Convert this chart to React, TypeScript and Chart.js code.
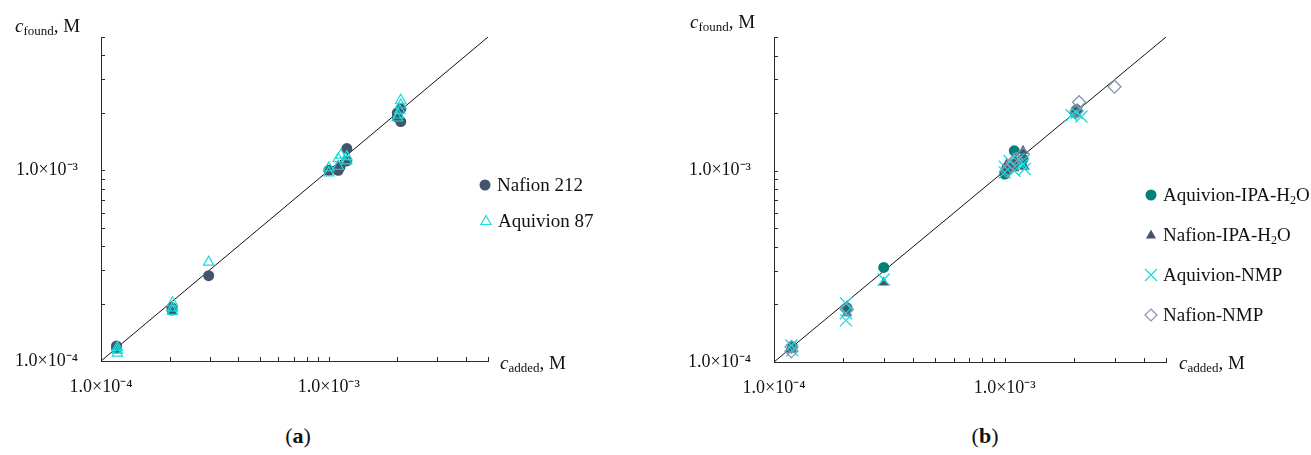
import React, { useEffect, useRef } from 'react';
import { Chart, registerables } from 'chart.js';

Chart.register(...registerables);

// ---------- axis data ----------
const AXIS_MIN = 1e-4;
const AXIS_MAX = 5e-3;
const LABELED_TICKS = [1e-4, 1e-3];
const TICK_LABELS = ['1.0×10⁻⁴', '1.0×10⁻³'];
const MINOR_TICKS = [2e-4, 3e-4, 4e-4, 5e-4, 6e-4, 7e-4, 8e-4, 9e-4, 1e-3, 2e-3, 3e-3, 4e-3, 5e-3];
const PARITY_LINE = [1e-4, 5e-3];

// ---------- panel (a) ----------
const A_SERIES = ['Nafion 212', 'Aquivion 87'];
const A_NAFION_X = [1.17e-4, 1.17e-4, 2.05e-4, 2.05e-4, 2.97e-4, 1.0e-3, 1.1e-3, 1.12e-3, 1.2e-3, 1.2e-3, 2.0e-3, 2.0e-3, 2.07e-3, 2.07e-3];
const A_NAFION_Y = [1.2e-4, 1.17e-4, 1.9e-4, 1.85e-4, 2.8e-4, 1.0e-3, 1.0e-3, 1.04e-3, 1.12e-3, 1.3e-3, 2.0e-3, 1.9e-3, 1.8e-3, 2.1e-3];
const A_AQUIVION_X = [1.18e-4, 1.18e-4, 1.18e-4, 2.06e-4, 2.06e-4, 2.06e-4, 2.97e-4, 1.0e-3, 1.0e-3, 1.1e-3, 1.1e-3, 1.13e-3, 1.2e-3, 1.2e-3, 2.0e-3, 2.02e-3, 2.05e-3, 2.07e-3, 2.07e-3];
const A_AQUIVION_Y = [1.18e-4, 1.14e-4, 1.1e-4, 2.02e-4, 1.9e-4, 1.82e-4, 3.3e-4, 1.03e-3, 0.97e-3, 1.05e-3, 1.15e-3, 1.2e-3, 1.18e-3, 1.12e-3, 1.88e-3, 1.95e-3, 2.06e-3, 2.2e-3, 2.33e-3];

// ---------- panel (b) ----------
const B_SERIES = ['Aquivion-IPA-H₂O', 'Nafion-IPA-H₂O', 'Aquivion-NMP', 'Nafion-NMP'];
const B_AQ_IPA_X = [1.2e-4, 2.07e-4, 2.99e-4, 1.0e-3, 1.02e-3, 1.1e-3, 1.1e-3, 1.2e-3, 2.02e-3, 2.05e-3];
const B_AQ_IPA_Y = [1.2e-4, 1.92e-4, 3.12e-4, 0.96e-3, 1.02e-3, 1.27e-3, 1.08e-3, 1.15e-3, 2.0e-3, 2.08e-3];
const B_NA_IPA_X = [1.19e-4, 2.07e-4, 2.07e-4, 2.99e-4, 1.0e-3, 1.02e-3, 1.1e-3, 1.12e-3, 1.2e-3, 1.22e-3, 2.03e-3, 2.06e-3];
const B_NA_IPA_Y = [1.16e-4, 1.8e-4, 1.95e-4, 2.6e-4, 1.0e-3, 1.08e-3, 1.03e-3, 1.13e-3, 1.27e-3, 1.05e-3, 2.02e-3, 2.1e-3];
const B_AQ_NMP_X = [1.19e-4, 1.2e-4, 2.05e-4, 2.05e-4, 2.05e-4, 2.99e-4, 1.0e-3, 1.0e-3, 1.05e-3, 1.1e-3, 1.15e-3, 1.2e-3, 1.22e-3, 1.95e-3, 2.05e-3, 2.15e-3];
const B_AQ_NMP_Y = [1.22e-4, 1.15e-4, 2.03e-4, 1.8e-4, 1.65e-4, 2.7e-4, 1.05e-3, 0.98e-3, 1.12e-3, 1.0e-3, 1.15e-3, 1.08e-3, 1.02e-3, 1.95e-3, 2.0e-3, 1.92e-3];
const B_NA_NMP_X = [1.19e-4, 1.19e-4, 2.07e-4, 1.02e-3, 1.08e-3, 1.12e-3, 1.2e-3, 2.05e-3, 2.1e-3, 2.99e-3];
const B_NA_NMP_Y = [1.2e-4, 1.14e-4, 1.88e-4, 1.0e-3, 1.1e-3, 1.15e-3, 1.22e-3, 2.05e-3, 2.28e-3, 2.75e-3];

// ---------- colours ----------
const C_SLATE = '#44546a';
const C_CYAN = '#1cdcdc';
const C_TEAL = '#03807a';
const C_BLUEGRAY = '#8497b0';
const AXIS_COLOR = '#2a2a2a';
const FONT = "'Liberation Serif', 'Times New Roman', serif";

const pts = (xs: number[], ys: number[]) => xs.map((x, i) => ({ x, y: ys[i] }));

const insideTicks = {
  id: 'insideTicks',
  afterDraw(chart: any) {
    const { ctx, chartArea, scales } = chart;
    const xs = scales.x, ys = scales.y;
    ctx.save();
    ctx.strokeStyle = AXIS_COLOR;
    ctx.lineWidth = 1;
    for (const v of MINOR_TICKS) {
      const px = Math.round(xs.getPixelForValue(v)) + 0.5;
      ctx.beginPath();
      ctx.moveTo(px, chartArea.bottom);
      ctx.lineTo(px, chartArea.bottom - 4);
      ctx.stroke();
      const py = Math.round(ys.getPixelForValue(v)) + 0.5;
      ctx.beginPath();
      ctx.moveTo(chartArea.left, py);
      ctx.lineTo(chartArea.left + 4, py);
      ctx.stroke();
    }
    ctx.restore();
  },
};

function axis(isX: boolean, fixedSize: number) {
  return {
    type: 'logarithmic',
    position: isX ? 'bottom' : 'left',
    min: AXIS_MIN,
    max: AXIS_MAX,
    bounds: 'data',
    grid: { display: false, drawTicks: false },
    border: { display: true, color: AXIS_COLOR, width: 1 },
    afterBuildTicks: (scale: any) => {
      scale.ticks = LABELED_TICKS.map((value) => ({ value }));
    },
    afterFit: (scale: any) => {
      if (isX) scale.height = fixedSize;
      else scale.width = fixedSize;
    },
    ticks: {
      autoSkip: false,
      maxRotation: 0,
      padding: isX ? 15 : 23,
      color: '#111',
      font: { family: FONT, size: 18 },
      callback: (v: number) => {
        const i = LABELED_TICKS.findIndex((t) => Math.abs(Math.log10(t) - Math.log10(v)) < 1e-6);
        return i >= 0 ? TICK_LABELS[i] : '';
      },
    },
  };
}

function Panel(props: { left: number; width: number; height: number; yWidth: number; xHeight: number; padRight: number; datasets: any[] }) {
  const ref = useRef<HTMLCanvasElement>(null);
  useEffect(() => {
    const lineDs = {
      type: 'line',
      data: PARITY_LINE.map((v) => ({ x: v, y: v })),
      borderColor: '#111',
      borderWidth: 1,
      pointRadius: 0,
      fill: false,
      order: 99,
    };
    const chart = new Chart(ref.current as HTMLCanvasElement, {
      type: 'scatter',
      data: { datasets: [...props.datasets, lineDs] as any },
      options: {
        animation: false,
        responsive: false,
        events: [],
        layout: { padding: { left: 0, top: 37, right: props.padRight, bottom: 0 } },
        plugins: { legend: { display: false }, tooltip: { enabled: false } },
        scales: { x: axis(true, props.xHeight) as any, y: axis(false, props.yWidth) as any },
      },
      plugins: [insideTicks],
    });
    return () => chart.destroy();
  }, []);
  return (
    <canvas
      ref={ref}
      width={props.width}
      height={props.height}
      style={{ position: 'absolute', left: props.left, top: 0, width: props.width, height: props.height }}
    />
  );
}

function Icon({ kind, color }: { kind: string; color: string }) {
  let shape: any = null;
  if (kind === 'circle') shape = <circle cx={8} cy={8} r={5.5} fill={color} />;
  if (kind === 'triangle') shape = <polygon points="8,2.5 13,11.5 3,11.5" fill={color} />;
  if (kind === 'triangleOpen') shape = <polygon points="8,2.5 13,11.5 3,11.5" fill="none" stroke={color} strokeWidth={1.2} />;
  if (kind === 'cross') shape = (
    <g stroke={color} strokeWidth={1.3}>
      <line x1={2} y1={2} x2={14} y2={14} />
      <line x1={14} y1={2} x2={2} y2={14} />
    </g>
  );
  if (kind === 'diamond') shape = <polygon points="8,2 14,8 8,14 2,8" fill="none" stroke={color} strokeWidth={1.2} />;
  return (
    <svg width={16} height={16} style={{ display: 'block' }}>
      {shape}
    </svg>
  );
}

function LegendItem({ x, y, kind, color, children }: any) {
  return (
    <>
      <div style={{ position: 'absolute', left: x - 8, top: y - 8 }}>
        <Icon kind={kind} color={color} />
      </div>
      <div style={{ position: 'absolute', left: x + 12, top: y - 12, height: 24, lineHeight: '24px', fontFamily: FONT, fontSize: 19, color: '#111', whiteSpace: 'nowrap' }}>
        {children}
      </div>
    </>
  );
}

function Title({ x, y, sub }: { x: number; y: number; sub: string }) {
  return (
    <div style={{ position: 'absolute', left: x, top: y - 12, height: 24, lineHeight: '24px', fontFamily: FONT, fontSize: 19, color: '#111', whiteSpace: 'nowrap' }}>
      <i>c</i>
      <sub style={{ fontSize: 13, verticalAlign: '-3px' }}>{sub}</sub>
      <i>,</i> M
    </div>
  );
}

function H2O({ pre }: { pre: string }) {
  return (
    <>
      {pre}H<sub style={{ fontSize: 12, verticalAlign: '-3px' }}>2</sub>O
    </>
  );
}

export default function App() {
  const aDatasets = [
    {
      label: A_SERIES[1],
      data: pts(A_AQUIVION_X, A_AQUIVION_Y),
      pointStyle: 'triangle',
      pointRadius: 6,
      backgroundColor: 'rgba(0,0,0,0)',
      borderColor: C_CYAN,
      borderWidth: 1.2,
      order: 0,
    },
    {
      label: A_SERIES[0],
      data: pts(A_NAFION_X, A_NAFION_Y),
      pointStyle: 'circle',
      pointRadius: 5.5,
      backgroundColor: C_SLATE,
      borderColor: C_SLATE,
      borderWidth: 0,
      order: 1,
    },
  ];
  const bDatasets = [
    {
      label: B_SERIES[3],
      data: pts(B_NA_NMP_X, B_NA_NMP_Y),
      pointStyle: 'rectRot',
      pointRadius: 6.5,
      backgroundColor: 'rgba(0,0,0,0)',
      borderColor: C_BLUEGRAY,
      borderWidth: 1.3,
      order: 0,
    },
    {
      label: B_SERIES[2],
      data: pts(B_AQ_NMP_X, B_AQ_NMP_Y),
      pointStyle: 'crossRot',
      pointRadius: 8.5,
      backgroundColor: C_CYAN,
      borderColor: C_CYAN,
      borderWidth: 1.3,
      order: 1,
    },
    {
      label: B_SERIES[1],
      data: pts(B_NA_IPA_X, B_NA_IPA_Y),
      pointStyle: 'triangle',
      pointRadius: 6,
      backgroundColor: C_SLATE,
      borderColor: C_SLATE,
      borderWidth: 0,
      order: 2,
    },
    {
      label: B_SERIES[0],
      data: pts(B_AQ_IPA_X, B_AQ_IPA_Y),
      pointStyle: 'circle',
      pointRadius: 5.5,
      backgroundColor: C_TEAL,
      borderColor: C_TEAL,
      borderWidth: 0,
      order: 3,
    },
  ];

  return (
    <div style={{ position: 'fixed', left: 0, top: 0, width: 1311, height: 455, background: '#fff', overflow: 'hidden' }}>
      <Panel left={0} width={520} height={420} yWidth={101} xHeight={59} padRight={32} datasets={aDatasets} />
      <Panel left={660} width={520} height={420} yWidth={114} xHeight={58} padRight={14} datasets={bDatasets} />

      <Title x={15} y={26} sub="found" />
      <Title x={500} y={363} sub="added" />
      <Title x={690} y={22} sub="found" />
      <Title x={1179} y={363} sub="added" />

      <LegendItem x={485} y={185} kind="circle" color={C_SLATE}>{A_SERIES[0]}</LegendItem>
      <LegendItem x={486} y={221} kind="triangleOpen" color={C_CYAN}>{A_SERIES[1]}</LegendItem>

      <LegendItem x={1151} y={195} kind="circle" color={C_TEAL}><H2O pre="Aquivion-IPA-" /></LegendItem>
      <LegendItem x={1151} y={235} kind="triangle" color={C_SLATE}><H2O pre="Nafion-IPA-" /></LegendItem>
      <LegendItem x={1151} y={275} kind="cross" color={C_CYAN}>{B_SERIES[2]}</LegendItem>
      <LegendItem x={1151} y={315} kind="diamond" color={C_BLUEGRAY}>{B_SERIES[3]}</LegendItem>

      <div style={{ position: 'absolute', left: 248, width: 100, top: 423, textAlign: 'center', fontFamily: FONT, fontSize: 22, color: '#111' }}>
        (<b>a</b>)
      </div>
      <div style={{ position: 'absolute', left: 935, width: 100, top: 423, textAlign: 'center', fontFamily: FONT, fontSize: 22, color: '#111' }}>
        (<b>b</b>)
      </div>
    </div>
  );
}
